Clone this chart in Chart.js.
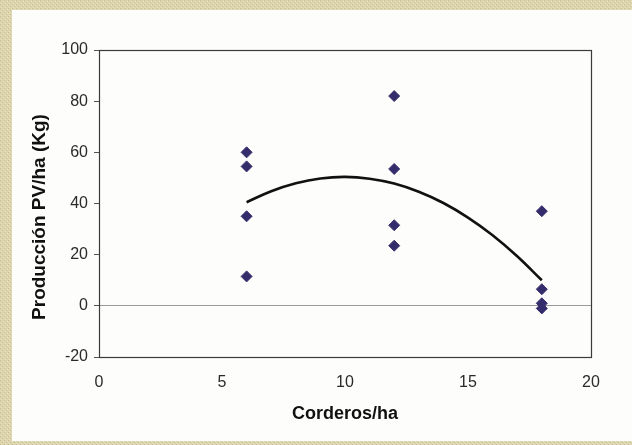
<!DOCTYPE html>
<html>
<head>
<meta charset="utf-8">
<script src="https://cdn.jsdelivr.net/npm/chart.js@4"></script>
<style>
  html, body { margin: 0; padding: 0; background: #fff; }
  canvas { display: block; }
</style>
</head>
<body>
<canvas id="chart" width="632" height="445"></canvas>
<script>
// Datos
const corderos   = [6, 6, 6, 6, 12, 12, 12, 12, 18, 18, 18, 18];
const produccion = [60, 54.5, 35, 11.5, 82, 53.5, 31.5, 23.5, 37, 6.5, 1, -1];

// Línea de tendencia
const tendenciaX = [6, 7, 8, 9, 10, 11, 12, 13, 14, 15, 16, 17, 18];
const tendenciaY = [40.5, 44.8, 47.9, 49.8, 50.4, 49.7, 47.8, 44.6, 40.2, 34.5, 27.6, 19.4, 10];

const tituloX = 'Corderos/ha';
const tituloY = 'Producción PV/ha (Kg)';

// ─── Fondo: marco beige y panel blanco ─────────────────────
function beigePattern(ctx) {
  const c = document.createElement('canvas');
  c.width = 4; c.height = 4;
  const p = c.getContext('2d');
  p.fillStyle = '#ddd5ae';
  p.fillRect(0, 0, 4, 4);
  p.fillStyle = '#c8bd8c';
  p.fillRect(0, 0, 1, 1);
  p.fillRect(2, 2, 1, 1);
  p.fillStyle = '#e9e3c6';
  p.fillRect(1, 3, 1, 1);
  p.fillRect(3, 1, 1, 1);
  return ctx.createPattern(c, 'repeat');
}

const fondo = {
  id: 'fondo',
  beforeDraw(chart) {
    const ctx = chart.ctx;
    ctx.save();
    ctx.fillStyle = beigePattern(ctx);
    ctx.fillRect(0, 0, chart.width, chart.height);
    ctx.fillStyle = '#fdfdfb';
    ctx.fillRect(12, 10, chart.width - 12, chart.height - 14);
    ctx.restore();
  },
  afterDraw(chart) {
    const {ctx, chartArea: a} = chart;
    ctx.save();
    ctx.strokeStyle = '#3a3a3a';
    ctx.lineWidth = 1.2;
    ctx.strokeRect(a.left + 0.5, a.top + 0.5, a.right - a.left, a.bottom - a.top);
    // título del eje Y (un poco más abajo que el centro del área, como en el original)
    ctx.translate(40, 217);
    ctx.rotate(-Math.PI / 2);
    ctx.fillStyle = '#111';
    ctx.font = 'bold 19px "Liberation Sans"';
    ctx.textAlign = 'center';
    ctx.textBaseline = 'middle';
    ctx.fillText(tituloY, 0, 0);
    ctx.restore();
  }
};

const puntos = corderos.map((x, i) => ({x, y: produccion[i]}));
const curva = tendenciaX.map((x, i) => ({x, y: tendenciaY[i]}));

new Chart(document.getElementById('chart').getContext('2d'), {
  type: 'scatter',
  data: {
    datasets: [
      {
        label: 'Tendencia',
        data: curva,
        showLine: true,
        borderColor: '#111',
        borderWidth: 2.6,
        pointRadius: 0,
        tension: 0.4,
        fill: false,
        order: 2
      },
      {
        label: 'Producción',
        data: puntos,
        pointStyle: 'rectRot',
        pointRadius: 5.5,
        backgroundColor: '#332d6b',
        borderColor: '#3d2f6e',
        borderWidth: 1,
        order: 1
      }
    ]
  },
  options: {
    responsive: false,
    animation: false,
    layout: { padding: { top: 50, right: 41, left: 0, bottom: 0 } },
    plugins: {
      legend: { display: false },
      tooltip: { enabled: false }
    },
    scales: {
      x: {
        type: 'linear',
        min: 0,
        max: 20,
        border: { display: false },
        ticks: {
          stepSize: 5,
          color: '#2a2a2a',
          padding: 11,
          font: { family: 'Liberation Sans', size: 16 }
        },
        grid: { display: true, drawOnChartArea: false, tickLength: 5, tickColor: 'transparent' },
        title: {
          display: true,
          text: tituloX,
          color: '#111',
          font: { family: 'Liberation Sans', size: 18, weight: 'bold' },
          padding: { top: 0, bottom: 20 }
        },
        afterFit(scale) { scale.height = 88; }
      },
      y: {
        min: -20,
        max: 100,
        border: { display: false },
        ticks: {
          stepSize: 20,
          color: '#2a2a2a',
          padding: 6,
          font: { family: 'Liberation Sans', size: 16 }
        },
        grid: {
          color: c => (c.tick && c.tick.value === 0) ? '#9a9a9a' : 'transparent',
          tickColor: '#555',
          tickLength: 5,
          lineWidth: 1
        },
        title: { display: false },
        afterFit(scale) { scale.width = 99; }
      }
    }
  },
  plugins: [fondo]
});
</script>
</body>
</html>
